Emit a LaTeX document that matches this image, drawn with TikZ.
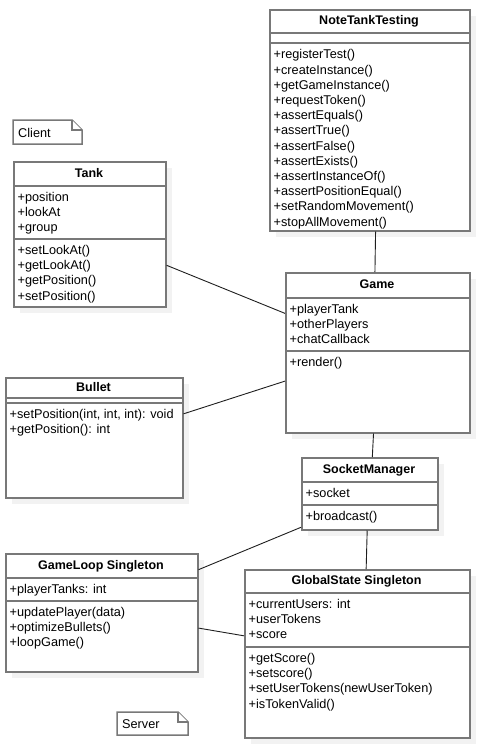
\documentclass[tikz,border=0pt]{standalone}
\usepackage{fontspec}
\setmainfont{Liberation Sans}
\usetikzlibrary{shadows}

\definecolor{boxgray}{HTML}{787878}
\definecolor{shadowgray}{HTML}{F2F2F2}
\definecolor{linegray}{HTML}{1E1E1E}

\tikzset{
    classbox/.style={draw=boxgray, line width=1.5pt, fill=white, inner sep=0pt, anchor=north west,
        drop shadow={shadow xshift=6pt, shadow yshift=-6pt, fill=shadowgray, opacity=1}},
    classname/.style={font=\fontsize{12.5}{15}\selectfont\bfseries, anchor=mid, inner sep=0pt},
    members/.style={font=\fontsize{12.7}{15.2}\selectfont, align=left, anchor=north west, inner sep=0pt},
    divider/.style={draw=boxgray, line width=1.5pt},
    assoc/.style={draw=linegray, line width=0.9pt},
    notebox/.style={draw=boxgray, line width=1.5pt, fill=white, line join=miter},
    notetext/.style={font=\fontsize{12.7}{15.2}\selectfont, anchor=west, inner sep=0pt}
}

\begin{document}
\begin{tikzpicture}[x=1pt,y=-1pt]
    \useasboundingbox (0,0) rectangle (479,750);

    % notes
    \draw[notebox] (13,120) -- (72,120) -- (82,130) -- (82,144) -- (13,144) -- cycle;
    \draw[notebox] (72,120) -- (72,130) -- (82,130);
    \node[notetext] (client) at (18,132.5) {Client};

    \draw[notebox] (117,712) -- (178,712) -- (188,722) -- (188,735) -- (117,735) -- cycle;
    \draw[notebox] (178,712) -- (178,722) -- (188,722);
    \node[notetext] (server) at (122,724) {Server};

    % NoteTankTesting
    \node[classbox, minimum width=200, minimum height=221] (ntt) at (269,9) {};
    \draw[divider] (269,33) -- (469,33);
    \draw[divider] (269,43) -- (469,43);
    \node[classname] (nttname) at (369,22) {NoteTankTesting};
    \node[members] (nttops) at (273.5,49.5) {+registerTest()\\+createInstance()\\+getGameInstance()\\+requestToken()\\+assertEquals()\\+assertTrue()\\+assertFalse()\\+assertExists()\\+assertInstanceOf()\\+assertPositionEqual()\\+setRandomMovement()\\+stopAllMovement()};

    % Tank
    \node[classbox, minimum width=152, minimum height=145] (tank) at (13,161) {};
    \draw[divider] (13,186) -- (165,186);
    \draw[divider] (13,239) -- (165,239);
    \node[classname] (tankname) at (89,174.5) {Tank};
    \node[members] (tankattr) at (17.5,192) {+position\\+lookAt\\+group};
    \node[members] (tankops) at (17.5,245) {+setLookAt()\\+getLookAt()\\+getPosition()\\+setPosition()};

    % Bullet
    \node[classbox, minimum width=177, minimum height=120] (bullet) at (5,377) {};
    \draw[divider] (5,398) -- (182,398);
    \draw[divider] (5,403) -- (182,403);
    \node[classname] (bulletname) at (93.5,388.5) {Bullet};
    \node[members] (bulletops) at (9.5,409) {+setPosition(int, int, int): void\\+getPosition(): int};

    % Game
    \node[classbox, minimum width=184, minimum height=160] (game) at (285,272) {};
    \draw[divider] (285,298) -- (469,298);
    \draw[divider] (285,351) -- (469,351);
    \node[classname] (gamename) at (377,286) {Game};
    \node[members] (gameattr) at (289.5,304) {+playerTank\\+otherPlayers\\+chatCallback};
    \node[members] (gameops) at (289.5,357) {+render()};

    % SocketManager
    \node[classbox, minimum width=136, minimum height=72] (sock) at (301,457) {};
    \draw[divider] (301,482) -- (437,482);
    \draw[divider] (301,505) -- (437,505);
    \node[classname] (sockname) at (369,470.5) {SocketManager};
    \node[members] (sockattr) at (305.5,488) {+socket};
    \node[members] (sockops) at (305.5,511) {+broadcast()};

    % GameLoop
    \node[classbox, minimum width=192, minimum height=118] (loop) at (5,553) {};
    \draw[divider] (5,578) -- (197,578);
    \draw[divider] (5,601) -- (197,601);
    \node[classname] (loopname) at (101,566.5) {GameLoop Singleton};
    \node[members] (loopattr) at (9.5,584) {+playerTanks: int};
    \node[members] (loopops) at (9.5,607) {+updatePlayer(data)\\+optimizeBullets()\\+loopGame()};

    % GlobalState
    \node[classbox, minimum width=225, minimum height=168] (glob) at (244,569) {};
    \draw[divider] (244,593) -- (469,593);
    \draw[divider] (244,647) -- (469,647);
    \node[classname] (globname) at (356.5,582) {GlobalState Singleton};
    \node[members] (globattr) at (248.5,599) {+currentUsers: int\\+userTokens\\+score};
    \node[members] (globops) at (248.5,653) {+getScore()\\+setscore()\\+setUserTokens(newUserToken)\\+isTokenValid()};

    % associations
    \draw[assoc] (ntt.-87.4) -- (game.92.1);
    \draw[assoc] (tank.-22.5) -- (game.157);
    \draw[assoc] (bullet.15.8) -- (game.-163.1);
    \draw[assoc] (game.-93.6) -- (sock.86.8);
    \draw[assoc] (sock.-94.8) -- (glob.84.9);
    \draw[assoc] (loop.24.1) -- (sock.-154.8);
    \draw[assoc] (loop.-9.5) -- (glob.171.4);
\end{tikzpicture}
\end{document}
